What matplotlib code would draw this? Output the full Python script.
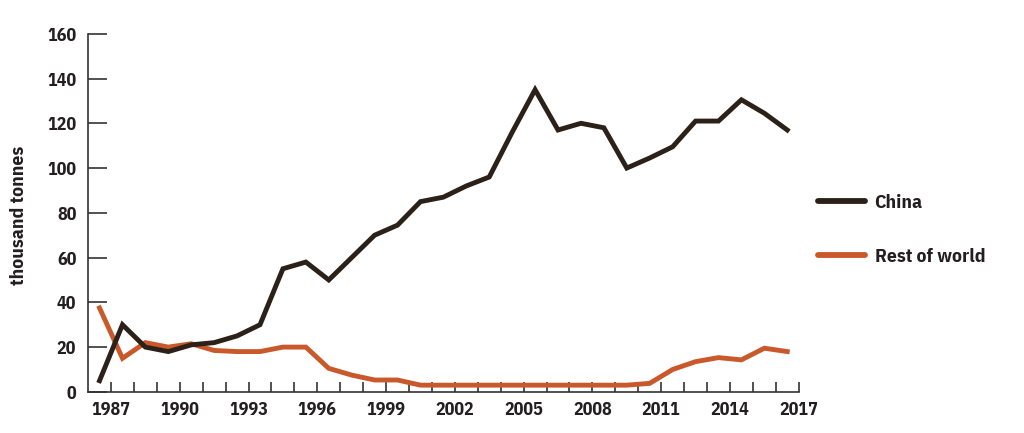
import numpy as np
import matplotlib.pyplot as plt
from matplotlib.lines import Line2D

# production by year (data points sit mid-year)
years = np.arange(1986, 2017) + 0.5
china = [5, 30, 20, 18, 21, 22, 25, 30, 55, 58, 50, 60, 70, 74.5, 85, 87, 92, 96,
         116, 135, 117, 120, 118, 100, 104.5, 109.5, 121, 121, 130.5, 124.5, 117]
rest_of_world = [37.5, 15, 22, 20, 21.5, 18.5, 18, 18, 20, 20, 10.5, 7.5, 5.3, 5.3, 3, 3,
                 3, 3, 3, 3, 3, 3, 3, 3, 3.8, 10, 13.5, 15.3, 14.3, 19.5, 18]

year_labels = list(range(1987, 2018, 3))
y_ticks = list(range(0, 161, 20))

china_col = '#2b2119'
row_col = '#c9592b'
text_col = '#231f20'
font = ['IBM Plex Sans Condensed', 'DejaVu Sans']

fig = plt.figure(figsize=(10.24, 4.33), dpi=100)
ax = fig.add_axes([0.086, 0.095, 0.694, 0.827])

ax.plot(years, china, color=china_col, lw=3.5, solid_joinstyle='miter', zorder=3)
ax.plot(years, rest_of_world, color=row_col, lw=3.5, solid_joinstyle='miter', zorder=2)

ax.set_xlim(1986, 2017)
ax.set_ylim(0, 160)
for s in ['top', 'right']:
    ax.spines[s].set_visible(False)
for s in ['left', 'bottom']:
    ax.spines[s].set_color('#333333')
    ax.spines[s].set_linewidth(1.2)

ax.set_yticks(y_ticks)
ax.set_yticklabels([str(v) for v in y_ticks], fontfamily=font, fontweight='bold',
                   fontsize=13, color=text_col)
ax.tick_params(axis='y', direction='in', length=13.5, width=1.2, color='#333333', pad=8.5)

ax.set_xticks(year_labels)
ax.set_xticks(range(1987, 2018), minor=True)
ax.set_xticklabels([str(v) for v in year_labels], fontfamily=font, fontweight='bold',
                   fontsize=13, color=text_col)
ax.tick_params(axis='x', which='both', direction='in', length=7, width=1.2,
               color='#333333', pad=6.5)

fig.text(0.019, 0.503, 'thousand tonnes', rotation=90, ha='center', va='center',
         fontfamily=font, fontweight='bold', fontsize=14, color=text_col)

# legend off to the right
handles = [Line2D([0], [0], color=china_col, lw=4.2, solid_capstyle='round'),
           Line2D([0], [0], color=row_col, lw=4.2, solid_capstyle='round')]
fig.legend(handles, ['China', 'Rest of world'], loc='center left',
           bbox_to_anchor=(0.799, 0.469), frameon=False, handlelength=2.4,
           handletextpad=0.5, borderpad=0, borderaxespad=0, labelspacing=1.85,
           prop={'family': font, 'weight': 'bold', 'size': 14}, labelcolor=text_col)

fig.savefig('out.png', dpi=100)
